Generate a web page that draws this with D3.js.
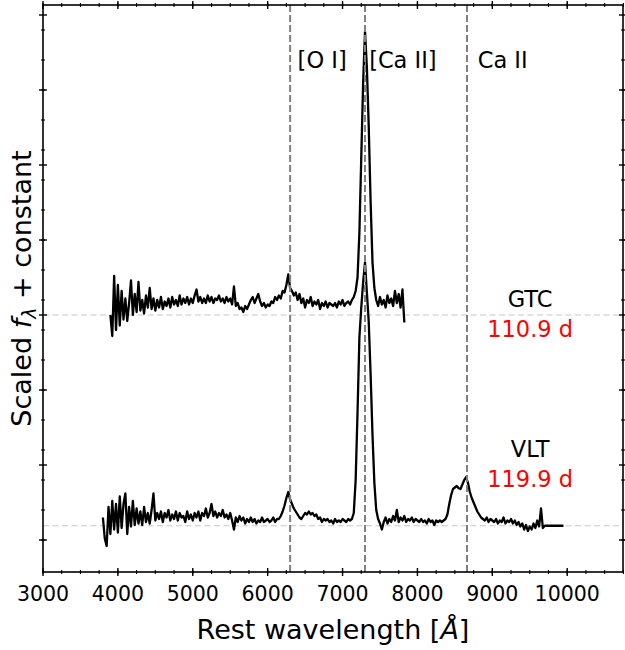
<!DOCTYPE html>
<html><head><meta charset="utf-8">
<script src="https://cdn.jsdelivr.net/npm/d3@7"></script>
<style>body{margin:0;background:#fff} svg{display:block} text{font-family:"DejaVu Sans",sans-serif}</style>
</head><body><svg id="c" width="625" height="650"></svg>
<script>
// ---- data ----
const gtcStart = 3900, gtcStep = 25;
const gtcFlux = [
1.50,1.36,1.76,1.40,1.70,1.43,1.66,1.47,1.61,1.46,
1.58,1.73,1.50,1.64,1.52,1.72,1.53,1.60,1.51,1.63,
1.55,1.68,1.54,1.61,1.53,1.60,1.55,1.62,1.54,1.59,
1.56,1.61,1.55,1.62,1.57,1.60,1.56,1.63,1.57,1.61,
1.58,1.62,1.57,1.61,1.58,1.63,1.67,1.59,1.62,1.58,
1.61,1.58,1.63,1.59,1.62,1.58,1.61,1.60,1.63,1.59,
1.61,1.58,1.62,1.59,1.61,1.57,1.69,1.56,1.58,1.54,
1.55,1.52,1.56,1.54,1.57,1.60,1.62,1.58,1.61,1.64,
1.59,1.56,1.58,1.55,1.57,1.56,1.59,1.58,1.62,1.60,
1.63,1.61,1.66,1.65,1.70,1.77,1.68,1.66,1.63,1.65,
1.60,1.64,1.58,1.61,1.55,1.60,1.58,1.62,1.56,1.59,
1.57,1.60,1.54,1.58,1.56,1.59,1.55,1.58,1.57,1.56,
1.58,1.55,1.59,1.57,1.60,1.56,1.58,1.59,1.57,1.60,
1.62,1.66,1.75,2.05,2.55,3.05,3.39,3.15,2.75,2.25,
1.85,1.68,1.60,1.56,1.62,1.57,1.60,1.55,1.63,1.58,
1.61,1.56,1.66,1.58,1.64,1.55,1.67,1.45];
const vltStart = 3800, vltStep = 25;
const vltFlux = [
0.15,0.01,-0.04,0.22,0.04,0.26,0.07,0.24,0.05,0.29,
0.08,0.24,0.31,0.04,0.22,0.09,0.26,0.10,0.21,0.11,
0.19,0.10,0.22,0.12,0.18,0.11,0.20,0.31,0.13,0.18,
0.14,0.19,0.12,0.18,0.15,0.20,0.13,0.17,0.14,0.19,
0.13,0.18,0.15,0.16,0.12,0.19,0.14,0.17,0.13,0.18,
0.15,0.19,0.13,0.18,0.16,0.21,0.15,0.18,0.24,0.16,
0.19,0.15,0.18,0.16,0.20,0.15,0.17,0.14,0.18,0.13,
0.07,0.15,0.12,0.16,0.13,0.15,0.11,0.14,0.12,0.15,
0.12,0.14,0.11,0.13,0.12,0.15,0.12,0.13,0.14,0.12,
0.13,0.15,0.12,0.14,0.14,0.16,0.19,0.23,0.28,0.32,
0.27,0.24,0.21,0.19,0.17,0.15,0.14,0.16,0.18,0.17,
0.19,0.17,0.18,0.16,0.17,0.14,0.15,0.12,0.14,0.13,
0.14,0.12,0.13,0.11,0.14,0.12,0.13,0.12,0.14,0.13,
0.12,0.14,0.13,0.14,0.18,0.40,0.85,1.35,1.55,1.72,
1.85,1.65,1.45,1.10,0.70,0.38,0.20,0.14,0.11,0.07,
0.12,0.15,0.11,0.14,0.12,0.16,0.13,0.20,0.12,0.15,
0.13,0.16,0.12,0.14,0.13,0.15,0.12,0.14,0.13,0.12,
0.14,0.12,0.13,0.11,0.14,0.12,0.13,0.10,0.13,0.12,
0.13,0.12,0.13,0.14,0.17,0.24,0.30,0.34,0.35,0.36,
0.345,0.34,0.37,0.40,0.42,0.38,0.32,0.28,0.25,0.22,
0.19,0.17,0.15,0.14,0.13,0.15,0.12,0.14,0.13,0.12,
0.14,0.11,0.13,0.12,0.15,0.11,0.13,0.12,0.14,0.11,
0.13,0.10,0.12,0.09,0.11,0.07,0.10,0.06,0.09,0.07,
0.11,0.08,0.13,0.09,0.21,0.08,0.095,
0.095,0.095,0.095,0.095,0.095,0.095,0.095,0.095,0.095,0.095];
const lineWaves = [6300, 7300, 8662];
const lineLabels = ["[O I]", "[Ca II]", "Ca II"];
const lineLabelWaves = [6400, 7355, 8805];
const baselines = [1.5, 0.095];
const specNames = ["GTC", "VLT"];
const specPhases = ["110.9 d", "119.9 d"];
const nameLevels = [1.555, 0.553];
const phaseLevels = [1.355, 0.355];
const labelWave = 9505;
const xMajor = [3000,4000,5000,6000,7000,8000,9000,10000];
const xTickLabels = ["3000","4000","5000","6000","7000","8000","9000","10000"];
const xMinor = d3.range(3000, 10751, 250);
const yMajor = [0,0.5,1,1.5,2,2.5,3,3.5];
const yMinor = [0,0.2,0.4,0.6,0.8,1,1.2,1.4,1.6,1.8,2,2.2,2.4,2.6,2.8,3,3.2,3.4];

// ---- layout ----
const svg = d3.select("#c");
const L = 43, R = 623, T = 5, B = 572;
const x = d3.scaleLinear().domain([3000, 10745]).range([L, R]);
const y = d3.scaleLinear().domain([-0.2133, 3.5667]).range([B, T]);

// horizontal baselines
svg.selectAll("line.base").data(baselines).join("line")
  .attr("x1", L).attr("x2", R).attr("y1", d => y(d)).attr("y2", d => y(d))
  .attr("stroke", "#c8c8c8").attr("stroke-width", 1.2).attr("stroke-dasharray", "6,3.5");

// spectra
const mk = (start, step) => d3.line().x((d, i) => x(start + step * i)).y(d => y(d));
svg.append("path").attr("d", mk(gtcStart, gtcStep)(gtcFlux))
  .attr("fill", "none").attr("stroke", "#000").attr("stroke-width", 2.3).attr("stroke-linejoin", "round");
svg.append("path").attr("d", mk(vltStart, vltStep)(vltFlux))
  .attr("fill", "none").attr("stroke", "#000").attr("stroke-width", 2.3).attr("stroke-linejoin", "round");

// vertical line markers
svg.selectAll("line.vl").data(lineWaves).join("line")
  .attr("x1", d => x(d)).attr("x2", d => x(d)).attr("y1", T).attr("y2", B)
  .attr("stroke", "#808080").attr("stroke-width", 2).attr("stroke-dasharray", "7,3");

svg.selectAll("text.ll").data(lineLabels).join("text")
  .attr("x", (d, i) => x(lineLabelWaves[i])).attr("y", y(3.147))
  .attr("font-size", 22.5).attr("fill", "#000").text(d => d);

// spectrum labels
specNames.forEach((n, i) => {
  svg.append("text").attr("x", x(labelWave)).attr("y", y(nameLevels[i]))
    .attr("text-anchor", "middle").attr("font-size", 22.5).attr("fill", "#000").text(n);
  svg.append("text").attr("x", x(labelWave)).attr("y", y(phaseLevels[i]))
    .attr("text-anchor", "middle").attr("font-size", 22.5).attr("fill", "#ff0000").text(specPhases[i]);
});

// frame
svg.append("rect").attr("x", L).attr("y", T).attr("width", R - L).attr("height", B - T)
  .attr("fill", "none").attr("stroke", "#000").attr("stroke-width", 1.6);

// ticks (in-out) on all sides
const tk = svg.append("g").attr("stroke", "#000");
function hTicks(vals, yy, len, w) {
  tk.selectAll(null).data(vals).join("line")
    .attr("x1", d => x(d)).attr("x2", d => x(d)).attr("y1", yy - len).attr("y2", yy + len)
    .attr("stroke-width", w);
}
function vTicks(vals, xx, len, w) {
  tk.selectAll(null).data(vals).join("line")
    .attr("y1", d => y(d)).attr("y2", d => y(d)).attr("x1", xx - len).attr("x2", xx + len)
    .attr("stroke-width", w);
}
hTicks(xMinor, B, 2, 1.1); hTicks(xMinor, T, 2, 1.1);
hTicks(xMajor, B, 4, 1.4); hTicks(xMajor, T, 4, 1.4);
vTicks(yMinor, L, 2, 1.1); vTicks(yMinor, R, 2, 1.1);
vTicks(yMajor, L, 4, 1.4); vTicks(yMajor, R, 4, 1.4);

svg.selectAll("text.xt").data(xMajor).join("text")
  .attr("x", d => x(d)).attr("y", 601).attr("text-anchor", "middle")
  .attr("font-size", 20.5).attr("fill", "#000").text((d, i) => xTickLabels[i]);

// axis labels
const xl = svg.append("text").attr("x", (L + R) / 2).attr("y", 639).attr("text-anchor", "middle")
  .attr("font-size", 27).attr("fill", "#000");
xl.append("tspan").text("Rest wavelength [");
xl.append("tspan").attr("font-style", "italic").text("Å");
xl.append("tspan").text("]");

const yl = svg.append("text").attr("transform", `translate(31,${(T + B) / 2}) rotate(-90)`)
  .attr("text-anchor", "middle").attr("font-size", 27).attr("fill", "#000");
yl.append("tspan").text("Scaled ");
yl.append("tspan").attr("font-style", "italic").text("f");
yl.append("tspan").attr("font-style", "italic").attr("font-size", 19).attr("dy", 5).text("λ");
yl.append("tspan").attr("dy", -5).text(" + constant");
</script></body></html>
